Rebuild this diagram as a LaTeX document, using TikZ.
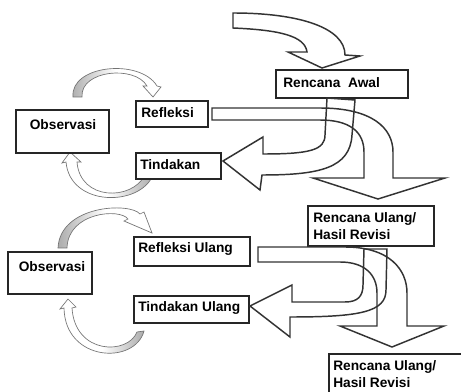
\documentclass[tikz,border=0pt]{standalone}
\usepackage{fontspec}
\setmainfont{Liberation Sans}
\begin{document}
\begin{tikzpicture}[x=0.75pt,y=-0.75pt,
  box/.style={draw=black!85, line width=1.4pt, fill=white, inner sep=0pt, anchor=north west},
  lbl/.style={font=\bfseries\fontsize{10.3}{12.5}\selectfont, text=black, inner sep=0pt, align=left},
  blockarrow/.style={draw=black!80, line width=1.1pt, line join=miter},
  ribbonL/.style={draw=black!55, line width=0.5pt, left color=gray!65, right color=white, middle color=white},
  ribbonR/.style={draw=black!55, line width=0.5pt, left color=white, right color=gray!65, middle color=white},
]
\clip (0,0) rectangle (461,392);
\fill[white] (0,0) rectangle (461,392);

% ---------- ribbons (small curved arrows) ----------
\path[ribbonL] (73,97) .. controls (70,65) and (140,58) .. (157,86) -- (161,87) -- (153,97)
  -- (143,86) -- (147,86) .. controls (135,65) and (80,70) .. (82,97) -- cycle;
\path[ribbonR] (153,175) .. controls (140,207) and (70,207) .. (66,162) -- (62,163) -- (70,152)
  -- (81,162) -- (77,162) .. controls (80,201) and (132,201) .. (145,175) -- cycle;
\path[ribbonL] (58,248) .. controls (60,205) and (130,202) .. (140,214) -- (144,212) -- (152,233)
  -- (124,221) -- (128,219) .. controls (120,208) and (68,212) .. (67,248) -- cycle;
\path[ribbonR] (144,331) .. controls (135,365) and (65,362) .. (64,308) -- (60,309) -- (68,299)
  -- (76,307) -- (72,308) .. controls (75,355) and (128,355) .. (137,332) -- cycle;

% ---------- boxes ----------
\node[box, minimum width=99pt,    minimum height=21pt]    (rawal) at (275,69) {};
\node[box, minimum width=54pt,    minimum height=19.5pt]  (refl)  at (135,100) {};
\node[box, minimum width=69.75pt, minimum height=32.25pt] (obsA)  at (15,109) {};
\node[box, minimum width=63.75pt, minimum height=19.5pt]  (tind)  at (135,152) {};
\node[box, minimum width=94.5pt,  minimum height=30pt]    (rulA)  at (307,205) {};
\node[box, minimum width=87pt,    minimum height=21.75pt] (reflu) at (133,236) {};
\node[box, minimum width=63pt,    minimum height=31.5pt]  (obsB)  at (7,251) {};
\node[box, minimum width=86.25pt, minimum height=20.25pt] (tindu) at (133,295) {};
\node[box, minimum width=112.5pt, minimum height=45pt]    (rulB)  at (328,353) {};

% ---------- block arrows ----------
% into Rencana Awal
\draw[blockarrow] (233,13) .. controls (300,13) and (345,28) .. (345,55) -- (360,56) -- (322,68)
  -- (288,52) -- (307,52) .. controls (305,36) and (280,30) .. (233,28) -- cycle;
% Rencana Awal -> Tindakan
\draw[blockarrow] (327,98) -- (355,100) -- (352,135) .. controls (350,168) and (320,175) .. (262,175)
  -- (260,190) -- (223,161) -- (263,137) -- (263,154) .. controls (310,154) and (325,150) .. (325,135) -- cycle;
% Refleksi -> Rencana Ulang
\draw[blockarrow] (212,108) -- (320,108) .. controls (372,108) and (393,128) .. (393,152) -- (393,178)
  -- (445,178) -- (378,199) -- (313,178) -- (364,178) -- (364,152) .. controls (364,132) and (350,120) .. (320,120)
  -- (212,120) -- cycle;
% Rencana Ulang -> Tindakan Ulang
\draw[blockarrow] (364,249) -- (387,249) -- (386,290) .. controls (386,312) and (360,317) .. (290,317)
  -- (290,337) -- (250,306) -- (292,285) -- (292,302) -- (345,302) .. controls (358,302) and (363,296) .. (363,285) -- cycle;
% Refleksi Ulang -> Rencana Ulang
\draw[blockarrow] (258,247) -- (345,247) .. controls (390,247) and (407,270) .. (407,293) -- (407,326)
  -- (444,326) -- (392,347) -- (340,326) -- (377,326) -- (377,293) .. controls (377,275) and (365,262) .. (340,262)
  -- (258,262) -- cycle;

% ---------- labels ----------
\node[lbl, anchor=west] (trawal) at (283,83) {Rencana\ \ Awal};
\node[lbl, anchor=west] (trefl)  at (141,113) {Refleksi};
\node[lbl] (tobsA) at (63,125) {Observasi};
\node[lbl, anchor=west] (ttind)  at (140,165) {Tindakan};
\node[lbl, anchor=west] (trulA)  at (313,226) {Rencana Ulang/\\Hasil Revisi};
\node[lbl, anchor=west] (treflu) at (138,249) {Refleksi Ulang};
\node[lbl] (tobsB) at (52,267) {Observasi};
\node[lbl, anchor=west] (ttindu) at (138,308) {Tindakan Ulang};
\node[lbl, anchor=west] (trulB)  at (333,374) {Rencana Ulang/\\Hasil Revisi};
\end{tikzpicture}
\end{document}
